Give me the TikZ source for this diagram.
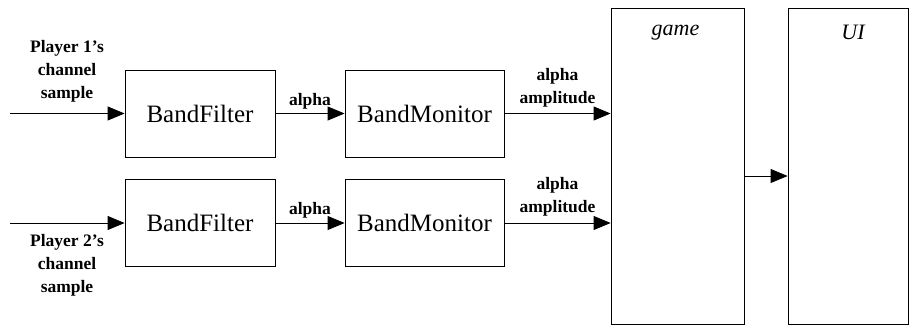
\documentclass[tikz,border=0pt]{standalone}
\usepackage{fontspec}
\setmainfont{Liberation Serif}
\usetikzlibrary{arrows.meta,positioning}

\begin{document}
\begin{tikzpicture}[
    x=1pt, y=-1pt,
    every node/.style={inner sep=0pt},
    block/.style={rectangle, draw=black, line width=0.8pt, minimum width=150pt, minimum height=87pt, font=\fontsize{25}{28}\selectfont},
    tall/.style={rectangle, draw=black, line width=0.8pt, minimum height=316pt},
    lbl/.style={align=center, font=\bfseries\fontsize{17.5}{23}\selectfont},
    title/.style={font=\itshape\fontsize{22}{24}\selectfont},
    flow/.style={line width=0.8pt, -{Triangle[length=17pt,width=14pt]}}
]
  \useasboundingbox (0,0) rectangle (909,326);

  % filters and monitors
  \foreach \i/\y in {1/113.5, 2/223} {
    \node[block] (bf\i) at (200,\y) {BandFilter};
    \node[block, minimum width=159pt] (bm\i) at (424.5,\y) {BandMonitor};
    \coordinate (in\i) at (10,\y);
  }

  \node[tall, minimum width=133pt] (game) at (677.5,166) {};
  \node[title, below=17pt of game.north, xshift=-2pt] (gamelbl) {game};
  \node[tall, minimum width=120pt] (ui) at (848,166) {};
  \node[title, below=17pt of ui.north, xshift=5pt] (uilbl) {UI};

  % inputs
  \node[lbl, anchor=south] (p1) at (67,102) {Player 1’s\\channel\\sample};
  \node[lbl, anchor=north] (p2) at (67,234) {Player 2’s\\channel\\sample};

  \foreach \i in {1,2} {
    \draw[flow] (in\i) -- (bf\i);
    \draw[flow] (bf\i) -- node[lbl, above=4pt] {alpha} (bm\i);
    \draw[flow] (bm\i) -- node[lbl, above=6pt] {alpha\\amplitude} (bm\i -| game.west);
  }

  \draw[flow] ([yshift=-10pt]game.east) -- ([yshift=-10pt]game.east -| ui.west);

\end{tikzpicture}
\end{document}
